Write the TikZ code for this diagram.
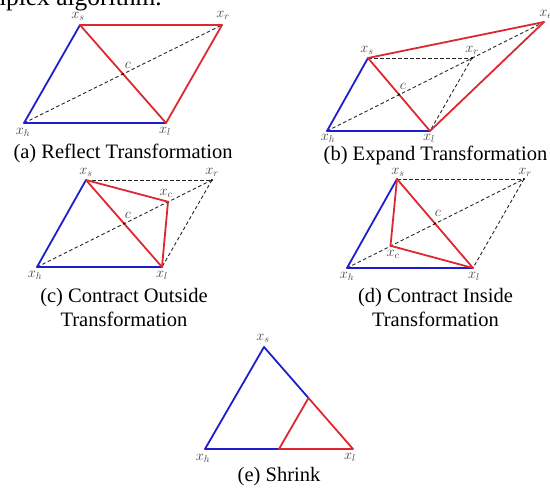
\documentclass[tikz,border=0pt]{standalone}
\usepackage{fontspec}
\setmainfont{Liberation Serif}
\usetikzlibrary{calc}
\definecolor{lred}{RGB}{222,40,48}
\definecolor{lblue}{RGB}{30,30,205}
\tikzset{
  redl/.style={draw=lred,line width=1.8pt,line cap=round,line join=round},
  bluel/.style={draw=lblue,line width=1.8pt,line cap=round,line join=round},
  dashl/.style={draw=black!85,line width=0.9pt,dash pattern=on 3.5pt off 2.5pt},
  vlab/.style={inner sep=0pt,text=black!75,font=\fontsize{14.5}{14.5}\selectfont},
  capt/.style={inner sep=0pt,align=center,font=\fontsize{20.5}{24}\selectfont}
}
\begin{document}
\begin{tikzpicture}[x=1pt,y=-1pt]
\useasboundingbox (0,0) rectangle (550,488);
\clip (0,0) rectangle (550,488);
% top text (cropped)
\node[anchor=base east,inner sep=0pt,font=\fontsize{25.5}{25.5}\selectfont] (toptext) at (162,5) {simplex algorithm.};

% ---------- (a) ----------
\coordinate (as) at (80,25);
\coordinate (ar) at (222,25);
\coordinate (ah) at (24,123);
\coordinate (al) at (166,123);
\coordinate (ac) at ($(as)!0.5!(al)$);
\draw[dashl] (ah) -- (ar);
\draw[bluel] (ah) -- (as);
\draw[bluel] (ah) -- (al);
\draw[redl] (as) -- (ar);
\draw[redl] (ar) -- (al);
\draw[redl] (as) -- (al);
\fill (ac) circle (1.1pt);
\node[vlab] (las) at (78,16) {$x_s$};
\node[vlab] (lar) at (223,15) {$x_r$};
\node[vlab] (lah) at (23,132) {$x_h$};
\node[vlab] (lal) at (165,131) {$x_l$};
\node[vlab] (lac) at (128,65) {$c$};
\node[capt] (capa) at (123,153) {(a) Reflect Transformation};

% ---------- (b) ----------
\coordinate (bs) at (368,58);
\coordinate (br) at (472,58);
\coordinate (bh) at (327,131);
\coordinate (bl) at (430,131);
\coordinate (bc) at ($(bs)!0.5!(bl)$);
\coordinate (be) at (544,22);
\draw[dashl] (bh) -- (be);
\draw[dashl] (bs) -- (br);
\draw[dashl] (br) -- (bl);
\draw[bluel] (bh) -- (bs);
\draw[bluel] (bh) -- (bl);
\draw[redl] (bs) -- (be);
\draw[redl] (be) -- (bl);
\draw[redl] (bs) -- (bl);
\fill (bc) circle (1.1pt);
\fill (br) circle (1.1pt);
\node[vlab] (lbs) at (367,50) {$x_s$};
\node[vlab] (lbr) at (472,50) {$x_r$};
\node[vlab] (lbe) at (546,14) {$x_e$};
\node[vlab] (lbh) at (328,138) {$x_h$};
\node[vlab] (lbl) at (429,138) {$x_l$};
\node[vlab] (lbc) at (403,86) {$c$};
\node[capt] (capb) at (435.5,155) {(b) Expand Transformation};

% ---------- (c) ----------
\coordinate (cs) at (86,180);
\coordinate (cr) at (212,180);
\coordinate (ch) at (37,267);
\coordinate (cl) at (162,267);
\coordinate (cc) at ($(cs)!0.5!(cl)$);
\coordinate (cx) at ($(cc)!0.5!(cr)$);
\draw[dashl] (ch) -- (cr);
\draw[dashl] (cs) -- (cr);
\draw[dashl] (cr) -- (cl);
\draw[bluel] (ch) -- (cs);
\draw[bluel] (ch) -- (cl);
\draw[redl] (cs) -- (cx);
\draw[redl] (cx) -- (cl);
\draw[redl] (cs) -- (cl);
\fill (cc) circle (1.1pt);
\fill (cr) circle (1.1pt);
\node[vlab] (lcs) at (86,172) {$x_s$};
\node[vlab] (lcr) at (212,172) {$x_r$};
\node[vlab] (lcx) at (166,193) {$x_c$};
\node[vlab] (lch) at (35,275) {$x_h$};
\node[vlab] (lcl) at (162,275) {$x_l$};
\node[vlab] (lcc) at (128,215) {$c$};
\node[capt] (capc) at (124,307) {(c) Contract Outside\\Transformation};

% ---------- (d) ----------
\coordinate (ds) at (397,179);
\coordinate (dr) at (524,179);
\coordinate (dh) at (347,268);
\coordinate (dl) at (473,268);
\coordinate (dc) at ($(ds)!0.5!(dl)$);
\coordinate (dx) at ($(dc)!-0.5!(dr)$);
\draw[dashl] (dh) -- (dr);
\draw[dashl] (ds) -- (dr);
\draw[dashl] (dr) -- (dl);
\draw[bluel] (dh) -- (ds);
\draw[bluel] (dh) -- (dl);
\draw[redl] (ds) -- (dx);
\draw[redl] (dx) -- (dl);
\draw[redl] (ds) -- (dl);
\fill (dc) circle (1.1pt);
\fill (dr) circle (1.1pt);
\node[vlab] (lds) at (398,172) {$x_s$};
\node[vlab] (ldr) at (525,172) {$x_r$};
\node[vlab] (ldc) at (438,213) {$c$};
\node[vlab] (ldx) at (393,254) {$x_c$};
\node[vlab] (ldh) at (347,276) {$x_h$};
\node[vlab] (ldl) at (474,276) {$x_l$};
\node[capt] (capd) at (435.5,307) {(d) Contract Inside\\Transformation};

% ---------- (e) ----------
\coordinate (es) at (264,347);
\coordinate (eh) at (205,449);
\coordinate (el) at (353,449);
\coordinate (em1) at ($(es)!0.5!(el)$);
\coordinate (em2) at ($(eh)!0.5!(el)$);
\draw[bluel] (em1) -- (es) -- (eh) -- (em2);
\draw[redl] (em1) -- (el) -- (em2) -- cycle;
\node[vlab] (les) at (263,338) {$x_s$};
\node[vlab] (leh) at (203,458) {$x_h$};
\node[vlab] (lel) at (350,457) {$x_l$};
\node[capt] (cape) at (279,477) {(e) Shrink};
\end{tikzpicture}
\end{document}
